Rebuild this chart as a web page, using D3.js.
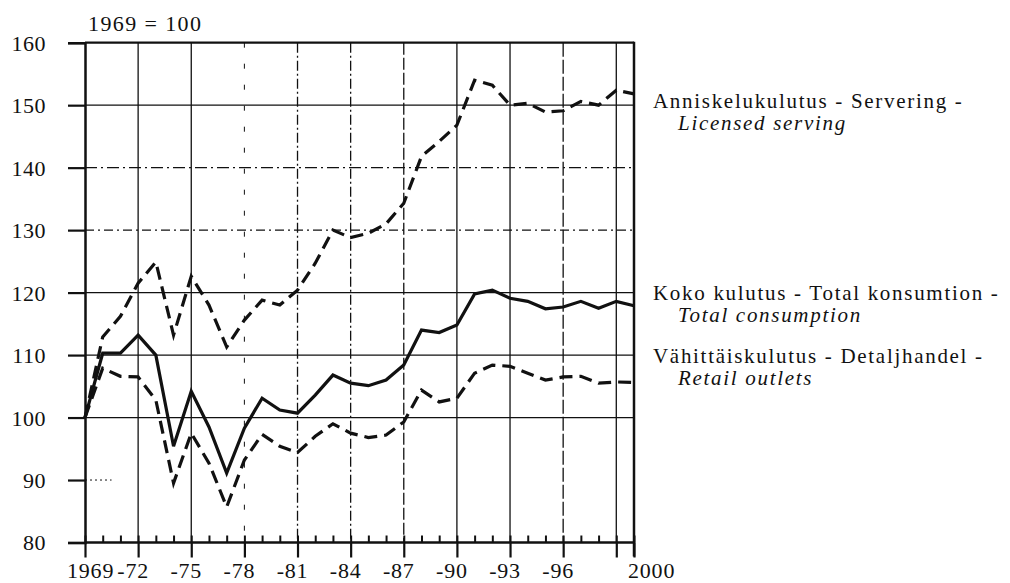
<!DOCTYPE html>
<html>
<head>
<meta charset="utf-8">
<script src="https://cdn.jsdelivr.net/npm/d3@7"></script>
<style>
  html, body { margin: 0; padding: 0; background: #fff; }
  svg { display: block; }
  svg text { font-family: "Liberation Serif", "DejaVu Serif", "Times New Roman", serif; fill: #111; }
</style>
</head>
<body>
<svg id="chart" width="1010" height="583"></svg>
<script>
// ---- data ----
const years = d3.range(1969, 2001);
const licensedServing = [100, 112.9, 116.2, 121.5, 124.9, 113.2, 122.6, 118.0, 111.3, 115.6, 118.8,
  118.0, 120.4, 124.7, 130.0, 128.8, 129.5, 131.0, 134.3, 141.8, 144.2, 146.8, 154.0, 153.2, 150.0,
  150.3, 148.9, 149.1, 150.6, 150.0, 152.4, 151.8];
const totalConsumption = [100, 110.3, 110.3, 113.2, 110.0, 95.4, 104.2, 98.5, 91.1, 98.3, 103.1,
  101.2, 100.7, 103.6, 106.8, 105.5, 105.1, 106.0, 108.4, 114.0, 113.6, 114.8, 119.8, 120.4, 119.1,
  118.6, 117.4, 117.7, 118.6, 117.5, 118.6, 117.9];
const retailOutlets = [100, 107.9, 106.6, 106.5, 102.8, 89.5, 97.5, 92.7, 85.7, 93.2, 97.3,
  95.4, 94.4, 97.0, 99.0, 97.5, 96.8, 97.2, 99.3, 104.4, 102.5, 103.1, 107.1, 108.4, 108.2,
  107.1, 106.0, 106.5, 106.6, 105.5, 105.7, 105.6];
const yTicks = [80, 90, 100, 110, 120, 130, 140, 150, 160];
const xMajorYears = [1969, 1972, 1975, 1978, 1981, 1984, 1987, 1990, 1993, 1996, 1999, 2000];
const xLabels = [
  {year: 1969, text: "1969"}, {year: 1972, text: "-72"}, {year: 1975, text: "-75"},
  {year: 1978, text: "-78"}, {year: 1981, text: "-81"}, {year: 1984, text: "-84"},
  {year: 1987, text: "-87"}, {year: 1990, text: "-90"}, {year: 1993, text: "-93"},
  {year: 1996, text: "-96"}, {year: 2000, text: "2000"}
];
const seriesNames = [
  ["Anniskelukulutus - Servering -", "Licensed serving"],
  ["Koko kulutus - Total konsumtion -", "Total consumption"],
  ["Vähittäiskulutus - Detaljhandel -", "Retail outlets"]
];
const baseLabel = "1969 = 100";

// ---- layout ----
const svg = d3.select("#chart");
const x = d3.scaleLinear().domain([1969, 2000]).range([85, 634]);
const y = d3.scaleLinear().domain([80, 160]).range([542.5, 42.7]);
const ink = "#111";
const FONT = '"Liberation Serif", "DejaVu Serif", "Times New Roman", serif';

// horizontal grid
const hStyle = {100: "", 110: "", 120: "", 130: "9,4,2,4", 140: "12,4,2,4", 150: "", 160: ""};
const grid = svg.append("g");
yTicks.filter(v => v > 80).forEach(v => {
  if (v === 90) {
    grid.append("line").attr("x1", x(1969)).attr("x2", x(1970.5)).attr("y1", y(v)).attr("y2", y(v))
      .attr("stroke", ink).attr("stroke-width", 1).attr("stroke-dasharray", "2,3");
    return;
  }
  grid.append("line")
    .attr("x1", x(1969)).attr("x2", x(2000)).attr("y1", y(v)).attr("y2", y(v))
    .attr("stroke", ink)
    .attr("stroke-width", v === 160 ? 2.2 : 1.2)
    .attr("stroke-dasharray", hStyle[v] || null);
});
// vertical grid
const vStyle = {1972: "", 1975: "", 1978: "5,16", 1981: "10,3,2,3", 1984: "10,3,2,3", 1987: "12,3",
  1990: "", 1993: "", 1996: "14,3", 1999: ""};
xMajorYears.filter(yr => yr > 1969 && yr < 2000).forEach(yr => {
  grid.append("line")
    .attr("x1", x(yr)).attr("x2", x(yr)).attr("y1", y(160)).attr("y2", y(80))
    .attr("stroke", ink).attr("stroke-width", yr === 1978 ? 1 : 1.3)
    .attr("stroke-dasharray", vStyle[yr] || null);
});
// right border
svg.append("line").attr("x1", x(2000)).attr("x2", x(2000)).attr("y1", y(160) - 1).attr("y2", y(80) + 14)
  .attr("stroke", ink).attr("stroke-width", 2.5);

// y axis
const yAxis = d3.axisLeft(y).tickValues(yTicks).tickSize(17).tickPadding(22);
const gy = svg.append("g").attr("transform", `translate(${x(1969)},0)`).call(yAxis)
  .attr("font-family", FONT);
gy.select(".domain").attr("stroke", ink).attr("stroke-width", 2.5);
gy.selectAll(".tick line").attr("stroke", ink).attr("stroke-width", 2.2);
gy.selectAll(".tick text").attr("font-size", 22).attr("fill", ink).attr("dy", "0.34em")
  .attr("letter-spacing", 0.5);

// x axis: minor ticks up, major ticks down
svg.append("line").attr("x1", x(1969)).attr("x2", x(2000)).attr("y1", y(80)).attr("y2", y(80))
  .attr("stroke", ink).attr("stroke-width", 2.5);
const xAxisMinor = d3.axisTop(x).tickValues(years).tickSize(7).tickFormat("");
const gMinor = svg.append("g").attr("transform", `translate(0,${y(80)})`).call(xAxisMinor);
gMinor.select(".domain").remove();
gMinor.selectAll(".tick line").attr("stroke", ink).attr("stroke-width", 2);
const xAxisMajor = d3.axisBottom(x).tickValues(xMajorYears).tickSize(15).tickFormat("");
const gMajor = svg.append("g").attr("transform", `translate(0,${y(80)})`).call(xAxisMajor);
gMajor.select(".domain").remove();
gMajor.selectAll(".tick line").attr("stroke", ink).attr("stroke-width", 2.2);

svg.append("g").attr("font-family", FONT).selectAll("text").data(xLabels).join("text")
  .attr("x", d => d.year === 1969 ? x(d.year) - 18 : d.year === 2000 ? x(d.year) - 6 : x(d.year) - 5)
  .attr("y", 578)
  .attr("text-anchor", d => (d.year === 1969 || d.year === 2000) ? "start" : "middle")
  .attr("font-size", 22)
  .attr("letter-spacing", 0.8)
  .text(d => d.text);

// base label
svg.append("text").attr("font-family", FONT).attr("x", 88).attr("y", 31).attr("font-size", 22)
  .attr("letter-spacing", 1.4).text(baseLabel);

// series lines
const line = d3.line().x((d, i) => x(years[i])).y(d => y(d));
const series = [
  {values: licensedServing, dash: "13,7"},
  {values: totalConsumption, dash: null},
  {values: retailOutlets, dash: "13,7"}
];
svg.append("g").selectAll("path").data(series).join("path")
  .attr("d", d => line(d.values))
  .attr("fill", "none")
  .attr("stroke", ink)
  .attr("stroke-width", 3.2)
  .attr("stroke-linejoin", "miter")
  .attr("stroke-dasharray", d => d.dash);

// series labels
const labelY = [108, 300, 363];
const lg = svg.append("g").attr("font-family", FONT);
seriesNames.forEach((names, i) => {
  lg.append("text").attr("x", 653).attr("y", labelY[i]).attr("font-size", 21)
    .attr("letter-spacing", 1.7).text(names[0]);
  lg.append("text").attr("x", 678).attr("y", labelY[i] + 22).attr("font-size", 21)
    .attr("letter-spacing", 1.7).attr("font-style", "italic").text(names[1]);
});
</script>
</body>
</html>
